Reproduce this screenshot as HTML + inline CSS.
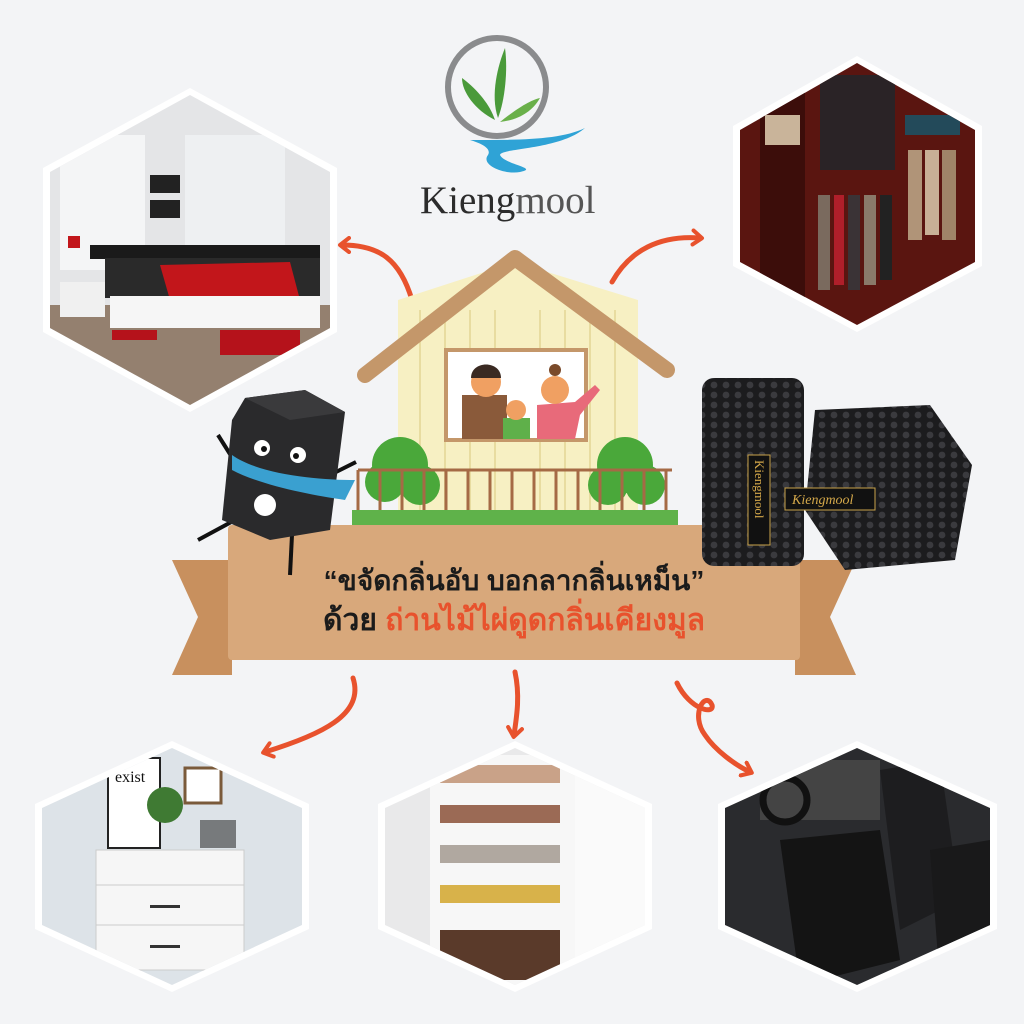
<!DOCTYPE html>
<html><head><meta charset="utf-8">
<style>
html,body{margin:0;padding:0;background:#f3f4f6;}
svg{display:block}
</style></head>
<body>
<svg width="1024" height="1024" viewBox="0 0 1024 1024" xmlns="http://www.w3.org/2000/svg">
<rect width="1024" height="1024" fill="#f3f4f6"/>
<defs>
<marker id="ah" markerWidth="18" markerHeight="18" refX="9" refY="9" orient="auto" markerUnits="userSpaceOnUse">
<path d="M2,2 L11,9 L2,16" fill="none" stroke="#e8522d" stroke-width="4" stroke-linecap="round" stroke-linejoin="round"/>
</marker>
<pattern id="hex" width="12" height="10" patternUnits="userSpaceOnUse">
<rect width="12" height="10" fill="#1c1c1e"/>
<circle cx="6" cy="5" r="3.4" fill="#3a3a3e"/>
</pattern>
<clipPath id="h1"><polygon points="190,95 330,172 330,328 190,405 50,328 50,172"/></clipPath>
<clipPath id="h2"><polygon points="857,63 975,130 975,262 857,325 740,262 740,130"/></clipPath>
<clipPath id="h3"><polygon points="172,748 302,808 302,925 172,985 42,925 42,808"/></clipPath>
<clipPath id="h4"><polygon points="515,748 645,808 645,925 515,985 385,925 385,808"/></clipPath>
<clipPath id="h5"><polygon points="857,748 990,808 990,925 857,985 725,925 725,808"/></clipPath>
</defs>

<polygon points="190,88 337,168 337,332 190,412 43,332 43,168" fill="#fff"/>
<polygon points="857,56 982,126 982,266 857,332 733,266 733,126" fill="#fff"/>
<polygon points="172,741 309,804 309,929 172,992 35,929 35,804" fill="#fff"/>
<polygon points="515,741 652,804 652,929 515,992 378,929 378,804" fill="#fff"/>
<polygon points="857,741 997,804 997,929 857,992 718,929 718,804" fill="#fff"/>

<!-- bedroom -->
<g clip-path="url(#h1)">
<rect x="40" y="90" width="300" height="320" fill="#e4e5e7"/>
<rect x="60" y="135" width="85" height="135" fill="#f4f5f6"/>
<rect x="185" y="135" width="100" height="120" fill="#eef0f2"/>
<rect x="150" y="175" width="30" height="18" fill="#222"/>
<rect x="150" y="200" width="30" height="18" fill="#222"/>
<rect x="40" y="305" width="300" height="105" fill="#94806f"/>
<rect x="90" y="245" width="230" height="14" fill="#1a1a1a"/>
<rect x="105" y="258" width="215" height="40" fill="#2a2a2a"/>
<path d="M160,265 L290,262 L300,300 L250,310 L170,300 Z" fill="#c2161b"/>
<rect x="110" y="296" width="210" height="32" fill="#f6f6f6"/>
<rect x="60" y="282" width="45" height="35" fill="#f0f0f0"/>
<rect x="68" y="236" width="12" height="12" fill="#c2161b"/>
<rect x="220" y="330" width="80" height="25" fill="#b5121b"/>
<rect x="112" y="330" width="45" height="10" fill="#b5121b"/>
</g>
<!-- wardrobe -->
<g clip-path="url(#h2)">
<rect x="735" y="60" width="245" height="270" fill="#5a1510"/>
<rect x="760" y="90" width="45" height="220" fill="#3c0d0a"/>
<rect x="765" y="115" width="35" height="30" fill="#c9b49a"/>
<rect x="820" y="75" width="75" height="95" fill="#2a2326"/>
<g fill="#7a6a5e"><rect x="818" y="195" width="12" height="95"/><rect x="834" y="195" width="10" height="90" fill="#b01f2a"/><rect x="848" y="195" width="12" height="95" fill="#3a3336"/><rect x="864" y="195" width="12" height="90" fill="#8a7a6a"/><rect x="880" y="195" width="12" height="85" fill="#222"/></g>
<g fill="#b09478"><rect x="908" y="150" width="14" height="90"/><rect x="925" y="150" width="14" height="85" fill="#c8b096"/><rect x="942" y="150" width="14" height="90" fill="#a08468"/></g>
<rect x="905" y="115" width="55" height="20" fill="#234a5a"/>
</g>
<!-- dresser -->
<g clip-path="url(#h3)">
<rect x="35" y="740" width="280" height="260" fill="#dde3e8"/>
<rect x="108" y="758" width="52" height="90" fill="#fff" stroke="#222" stroke-width="2"/>
<text x="115" y="782" font-family="Liberation Serif,serif" font-size="16" fill="#111">exist</text>
<rect x="185" y="768" width="36" height="35" fill="#fff" stroke="#7a5a3a" stroke-width="3"/>
<circle cx="165" cy="805" r="18" fill="#3f7a33"/>
<rect x="96" y="850" width="148" height="120" fill="#f6f6f6" stroke="#ccc"/>
<line x1="96" y1="885" x2="244" y2="885" stroke="#ccc"/>
<line x1="96" y1="925" x2="244" y2="925" stroke="#ccc"/>
<rect x="150" y="905" width="30" height="3" fill="#333"/>
<rect x="150" y="945" width="30" height="3" fill="#333"/>
<rect x="200" y="820" width="36" height="28" fill="#333" opacity=".6"/>
</g>
<!-- shoe rack -->
<g clip-path="url(#h4)">
<rect x="380" y="740" width="270" height="260" fill="#e9e9ea"/>
<rect x="430" y="755" width="150" height="235" fill="#f7f7f7"/>
<rect x="440" y="765" width="120" height="18" fill="#c9a288"/>
<rect x="440" y="805" width="120" height="18" fill="#9b6a55"/>
<rect x="440" y="845" width="120" height="18" fill="#b0a8a0"/>
<rect x="440" y="885" width="120" height="18" fill="#d8b24a"/>
<rect x="440" y="930" width="120" height="50" fill="#5a3a2a"/>
<rect x="575" y="755" width="70" height="235" fill="#fafafa"/>
</g>
<!-- car -->
<g clip-path="url(#h5)">
<rect x="720" y="740" width="280" height="260" fill="#2a2b2e"/>
<rect x="760" y="760" width="120" height="60" fill="#444"/>
<circle cx="785" cy="800" r="22" fill="none" stroke="#111" stroke-width="7"/>
<path d="M780,840 L880,830 L900,960 L800,985 Z" fill="#141414"/>
<path d="M880,770 L940,760 L960,900 L900,930 Z" fill="#1d1d1f"/>
<path d="M930,850 L990,840 L990,980 L940,985 Z" fill="#19191a"/>
</g>

<g fill="none" stroke="#e8522d" stroke-width="5" stroke-linecap="round">
<path d="M412,300 C400,260 380,245 342,245" marker-end="url(#ah)"/>
<path d="M612,282 C630,250 660,235 700,238" marker-end="url(#ah)"/>
<path d="M353,678 C365,715 320,735 265,752" marker-end="url(#ah)"/>
<path d="M515,672 C520,695 517,715 514,735" marker-end="url(#ah)"/>
<path d="M677,683 C690,710 715,715 712,705 C705,690 690,715 705,735 C715,750 735,765 750,772" marker-end="url(#ah)"/>
</g>

<circle cx="497" cy="87" r="49" fill="none" stroke="#8a8b8d" stroke-width="6"/>
<path d="M498,118 C490,95 498,65 505,48 C508,70 505,100 498,118 Z" fill="#4a9a3a"/>
<path d="M495,120 C475,110 462,92 462,78 C478,90 490,105 495,120 Z" fill="#4a9a3a"/>
<path d="M500,122 C515,110 530,100 540,98 C532,112 518,120 500,122 Z" fill="#6ab04a"/>
<path d="M470,140 C520,140 560,140 585,128 C560,150 500,148 500,155 C505,165 540,168 520,172 C505,175 480,165 488,155 C492,148 480,143 470,140 Z" fill="#2fa3d6"/>
<text x="420" y="213" font-family="Liberation Serif,serif" font-size="39" fill="#2c2c2c">Kieng<tspan fill="#555">mool</tspan></text>

<polygon points="172,560 232,560 232,675 172,675 198,617" fill="#c8905e"/>
<polygon points="795,560 856,560 830,617 856,675 795,675" fill="#c8905e"/>
<rect x="228" y="525" width="572" height="135" rx="4" fill="#d8a87b"/>
<text x="514" y="590" text-anchor="middle" font-family="Liberation Sans,DejaVu Sans,sans-serif" font-size="28" font-weight="bold" fill="#1b1b1b">“ขจัดกลิ่นอับ บอกลากลิ่นเหม็น”</text>
<text x="514" y="630" text-anchor="middle" font-family="Liberation Sans,DejaVu Sans,sans-serif" font-size="30" font-weight="bold" fill="#1b1b1b">ด้วย <tspan fill="#e8522d">ถ่านไม้ไผ่ดูดกลิ่นเคียงมูล</tspan></text>

<rect x="398" y="300" width="240" height="212" fill="#f7f0c3"/>
<g stroke="#e8dca0" stroke-width="2">
<line x1="420" y1="300" x2="420" y2="510"/><line x1="445" y1="290" x2="445" y2="510"/>
<line x1="470" y1="280" x2="470" y2="510"/><line x1="495" y1="270" x2="495" y2="510"/>
<line x1="540" y1="270" x2="540" y2="510"/><line x1="565" y1="280" x2="565" y2="510"/>
<line x1="590" y1="290" x2="590" y2="510"/><line x1="615" y1="300" x2="615" y2="510"/>
</g>
<polygon points="398,300 515,262 638,300 638,310 398,310" fill="#f7f0c3"/>
<path d="M365,375 L515,258 L667,370" fill="none" stroke="#c4976a" stroke-width="16" stroke-linejoin="round" stroke-linecap="round"/>
<rect x="446" y="350" width="140" height="90" fill="#fff" stroke="#c4976a" stroke-width="4"/>
<rect x="462" y="395" width="45" height="44" fill="#8a5a3a"/>
<circle cx="486" cy="382" r="15" fill="#f0a062"/>
<path d="M471,378 C471,360 501,360 501,378" fill="#3a2a22"/>
<rect x="503" y="418" width="27" height="21" fill="#5fb04a"/>
<circle cx="516" cy="410" r="10" fill="#f0a062"/>
<path d="M537,439 L537,405 L575,402 L595,385 L600,390 L580,415 L575,439 Z" fill="#e86a7a"/>
<circle cx="555" cy="390" r="14" fill="#f0a062"/>
<circle cx="555" cy="370" r="6" fill="#7a4a2a"/>
<circle cx="400" cy="465" r="28" fill="#4aa83a"/><circle cx="385" cy="482" r="20" fill="#4aa83a"/><circle cx="420" cy="485" r="20" fill="#4aa83a"/>
<circle cx="625" cy="465" r="28" fill="#4aa83a"/><circle cx="608" cy="485" r="20" fill="#4aa83a"/><circle cx="645" cy="485" r="20" fill="#4aa83a"/>
<g stroke="#a56a45" stroke-width="3">
<line x1="358" y1="470" x2="672" y2="470"/>
<line x1="358" y1="470" x2="358" y2="512"/><line x1="380" y1="470" x2="380" y2="512"/>
<line x1="402" y1="470" x2="402" y2="512"/><line x1="424" y1="470" x2="424" y2="512"/>
<line x1="446" y1="470" x2="446" y2="512"/><line x1="468" y1="470" x2="468" y2="512"/>
<line x1="490" y1="470" x2="490" y2="512"/><line x1="512" y1="470" x2="512" y2="512"/>
<line x1="534" y1="470" x2="534" y2="512"/><line x1="556" y1="470" x2="556" y2="512"/>
<line x1="578" y1="470" x2="578" y2="512"/><line x1="600" y1="470" x2="600" y2="512"/>
<line x1="622" y1="470" x2="622" y2="512"/><line x1="644" y1="470" x2="644" y2="512"/>
<line x1="666" y1="470" x2="666" y2="512"/>
</g>
<rect x="352" y="510" width="326" height="15" fill="#5fb24a"/>

<line x1="240" y1="470" x2="218" y2="435" stroke="#111" stroke-width="4"/>
<line x1="320" y1="480" x2="356" y2="462" stroke="#111" stroke-width="4"/>
<line x1="235" y1="520" x2="198" y2="540" stroke="#111" stroke-width="4"/>
<line x1="292" y1="535" x2="290" y2="575" stroke="#111" stroke-width="4"/>
<path d="M245,398 L305,390 L345,412 L330,530 L270,540 L222,520 L232,420 Z" fill="#2a2a2c"/>
<path d="M245,398 L305,390 L345,412 L290,420 Z" fill="#3a3a3c"/>
<path d="M232,455 C260,475 320,480 355,480 L345,500 C310,495 260,485 232,470 Z" fill="#3aa0d0"/>
<circle cx="262" cy="448" r="8" fill="#fff"/><circle cx="298" cy="455" r="8" fill="#fff"/>
<circle cx="264" cy="449" r="3" fill="#111"/><circle cx="296" cy="456" r="3" fill="#111"/>
<circle cx="265" cy="505" r="11" fill="#fff"/>

<rect x="702" y="378" width="102" height="188" rx="12" fill="url(#hex)"/>
<rect x="748" y="455" width="22" height="90" fill="#111" stroke="#c9a24a"/>
<text x="0" y="0" transform="translate(755,460) rotate(90)" font-family="Liberation Serif,serif" font-size="13" fill="#d4a84a">Kiengmool</text>
<polygon points="815,410 930,405 972,465 955,560 845,570 805,510" fill="url(#hex)"/>
<rect x="785" y="488" width="90" height="22" fill="#111" stroke="#c9a24a"/>
<text x="792" y="504" font-family="Liberation Serif,serif" font-size="14" font-style="italic" fill="#d4a84a">Kiengmool</text>
</svg>
</body></html>
